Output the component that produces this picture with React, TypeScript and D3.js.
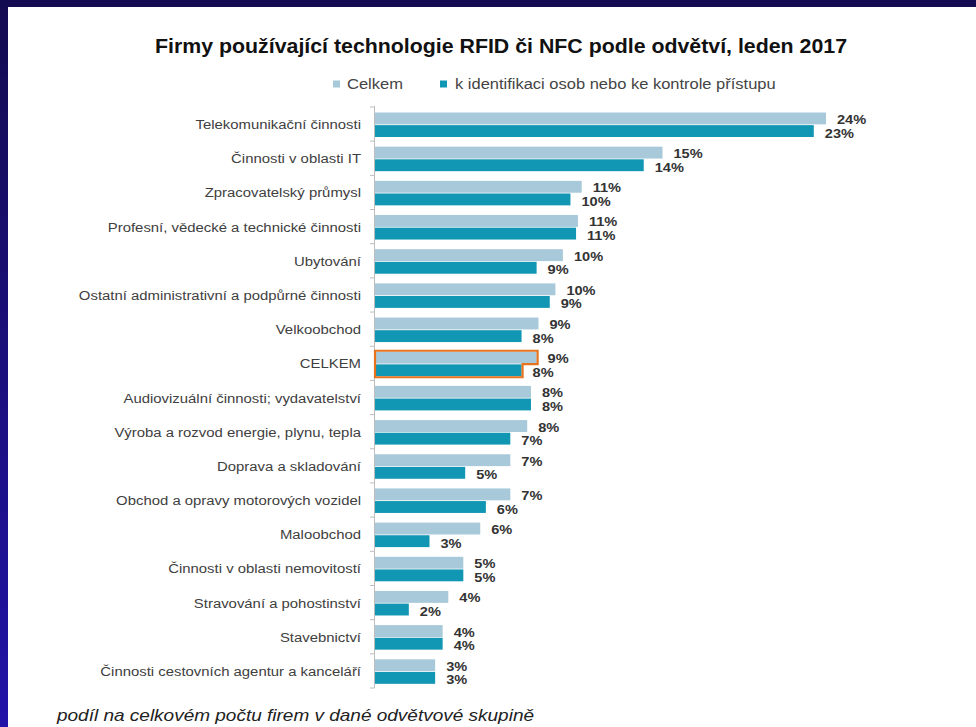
import React from "react";
import * as d3 from "d3";

const categories = [
  "Telekomunikační činnosti",
  "Činnosti v oblasti IT",
  "Zpracovatelský průmysl",
  "Profesní, vědecké a technické činnosti",
  "Ubytování",
  "Ostatní administrativní a podpůrné činnosti",
  "Velkoobchod",
  "CELKEM",
  "Audiovizuální činnosti; vydavatelství",
  "Výroba a rozvod energie, plynu, tepla",
  "Doprava a skladování",
  "Obchod a opravy motorových vozidel",
  "Maloobchod",
  "Činnosti v oblasti nemovitostí",
  "Stravování a pohostinství",
  "Stavebnictví",
  "Činnosti cestovních agentur a kanceláří",
];

const celkem = [24.0, 15.3, 11.0, 10.8, 10.0, 9.6, 8.7, 8.6, 8.3, 8.1, 7.2, 7.2, 5.6, 4.7, 3.9, 3.6, 3.2];
const identifikace = [23.35, 14.3, 10.4, 10.7, 8.6, 9.3, 7.8, 7.8, 8.3, 7.2, 4.8, 5.9, 2.9, 4.7, 1.8, 3.6, 3.2];

const seriesNames = ["Celkem", "k identifikaci osob nebo ke kontrole přístupu"];
const highlighted = "CELKEM";

const title = "Firmy používající technologie RFID či NFC podle odvětví, leden 2017";
const caption = "podíl na celkovém počtu firem v dané odvětvové skupině";

const LIGHT = "#a7c9d9";
const DARK = "#1196b3";
const ORANGE = "#e8731e";
const FONT = "'Liberation Sans', Arial, sans-serif";

export default function App() {
  const W = 976;
  const H = 727;
  const y = d3.scaleBand<string>().domain(categories).range([107, 688]).padding(0);
  const sub = d3.scaleBand<string>().domain(["c", "i"]).range([5.5, 30]).paddingInner(0.06);
  const x = d3.scaleLinear().domain([0, 24]).range([375, 826]);
  const fmt = (v: number) => `${Math.round(v)}%`;
  const boundaries = [...categories.map((c) => y(c) as number), (y(categories[categories.length - 1]) as number) + y.bandwidth()];
  const sx = 1.12;

  return (
    <svg width={W} height={H} style={{ position: "absolute", left: 0, top: 0, display: "block" }} fontFamily={FONT}>
      <defs>
        <linearGradient id="leftband" x1="0" y1="0" x2="0" y2="1">
          <stop offset="0" stopColor="#130b50" />
          <stop offset="1" stopColor="#2313a8" />
        </linearGradient>
      </defs>
      <rect x={0} y={0} width={W} height={H} fill="#ffffff" />
      <rect x={0} y={0} width={W} height={7} fill="#130c52" />
      <rect x={0} y={0} width={8} height={H} fill="url(#leftband)" />

      <text x={501} y={53} textAnchor="middle" fontSize={21} fontWeight="bold" fill="#111" textLength={692} lengthAdjust="spacingAndGlyphs">
        {title}
      </text>

      {/* legend */}
      <rect x={333} y={80.5} width={7} height={7} fill={LIGHT} />
      <text transform={`translate(347,89) scale(1.1,1)`} fontSize={15} fill="#444">{seriesNames[0]}</text>
      <rect x={440} y={80.5} width={7} height={7} fill={DARK} />
      <text transform={`translate(455,89) scale(1.1,1)`} fontSize={15} fill="#444">{seriesNames[1]}</text>

      {/* axis */}
      <line x1={374.5} x2={374.5} y1={boundaries[0] - 1} y2={boundaries[boundaries.length - 1]} stroke="#bdbdbd" strokeWidth={1} />
      {boundaries.map((b, i) => (
        <line key={i} x1={370} x2={374.5} y1={b} y2={b} stroke="#bdbdbd" strokeWidth={1} />
      ))}

      {categories.map((c, i) => {
        const y0 = y(c) as number;
        const yc = y0 + (sub("c") as number);
        const yi = y0 + (sub("i") as number);
        const bh = sub.bandwidth();
        const xc = x(celkem[i]);
        const xi = x(identifikace[i]);
        const isHi = c === highlighted;
        const outline = isHi
          ? `M${x(0)},${yc - 1}H${xc + 1}V${yc + bh + 0.5}H${xi + 1}V${yi + bh + 1}H${x(0)}Z`
          : null;
        return (
          <g key={c}>
            <text
              transform={`translate(361,${y0 + y.bandwidth() / 2 + 5}) scale(${sx},1)`}
              textAnchor="end"
              fontSize={13.3}
              fill="#404040"
            >
              {c}
            </text>
            <rect x={x(0)} y={yc} width={xc - x(0)} height={bh} fill={LIGHT} />
            <rect x={x(0)} y={yi} width={xi - x(0)} height={bh} fill={DARK} />
            {outline && <path d={outline} fill="none" stroke={ORANGE} strokeWidth={2.2} />}
            <text
              transform={`translate(${xc + 11},${yc + bh / 2 + 5.5}) scale(1.08,1)`}
              fontSize={13.5}
              fontWeight="bold"
              fill="#333"
            >
              {fmt(celkem[i])}
            </text>
            <text
              transform={`translate(${xi + 11},${yi + bh / 2 + 6.5}) scale(1.08,1)`}
              fontSize={13.5}
              fontWeight="bold"
              fill="#333"
            >
              {fmt(identifikace[i])}
            </text>
          </g>
        );
      })}

      <text x={57} y={721} fontSize={17} fontStyle="italic" fill="#222" textLength={477} lengthAdjust="spacingAndGlyphs">
        {caption}
      </text>
    </svg>
  );
}
